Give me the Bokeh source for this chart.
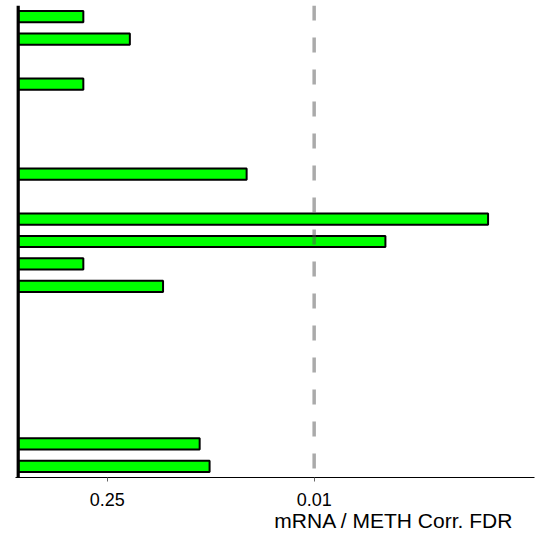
import math
from bokeh.plotting import figure
from bokeh.models import Range1d, Span, FixedTicker, Title
from bokeh.embed import file_html
from bokeh.resources import INLINE

# ---- data ----
rows = list(range(21))
fdr = [0.363, 0.176, None, 0.363, None, None, None, 0.0286, None, 0.000668,
       0.0033, 0.363, 0.105, None, None, None, None, None, None, 0.0594, 0.0509]
tick_fdr = [0.25, 0.01]
tick_labels = ["0.25", "0.01"]
threshold_fdr = 0.01
x_title = "mRNA / METH Corr. FDR"

ys = [r for r, v in zip(rows, fdr) if v is not None]
xs = [-math.log10(v) for v in fdr if v is not None]

W, H = 552, 537
p = figure(width=W, height=H, output_backend="svg", toolbar_location=None,
           x_range=Range1d(-0.0183, 3.489), y_range=Range1d(20.5, -0.5),
           min_border_left=15, min_border_right=18, min_border_top=5,
           min_border_bottom=60)
p.outline_line_color = None
p.xgrid.grid_line_color = None
p.ygrid.grid_line_color = None
p.yaxis.visible = False

p.hbar(y=ys, left=0, right=xs, height=0.5, fill_color="#00ff00",
       line_color="black", line_width=2)

p.add_layout(Span(location=-math.log10(threshold_fdr), dimension="height",
                  line_color="#555555", line_alpha=0.5, line_width=3.5,
                  line_dash="15 17"))
p.add_layout(Span(location=0, dimension="height", line_color="black",
                  line_width=3.2))

tick_pos = [-math.log10(t) for t in tick_fdr]
ax = p.xaxis[0]
ax.ticker = FixedTicker(ticks=tick_pos)
ax.major_label_overrides = {tp: lab for tp, lab in zip(tick_pos, tick_labels)}
ax.minor_tick_line_color = None
ax.major_tick_in = 0
ax.major_tick_out = 4
ax.major_tick_line_color = "#666666"
ax.axis_line_color = "black"
ax.axis_line_width = 1
ax.major_label_standoff = 11
ax.major_label_text_font = "Liberation Sans"
ax.major_label_text_font_size = "18px"
ax.major_label_text_color = "black"

t = Title(text=x_title, align="right", offset=21, text_font="Liberation Sans",
          text_font_size="21px", text_font_style="normal", text_color="black",
          standoff=-3)
p.add_layout(t, "below")

open("out.html", "w").write(file_html(p, INLINE))
